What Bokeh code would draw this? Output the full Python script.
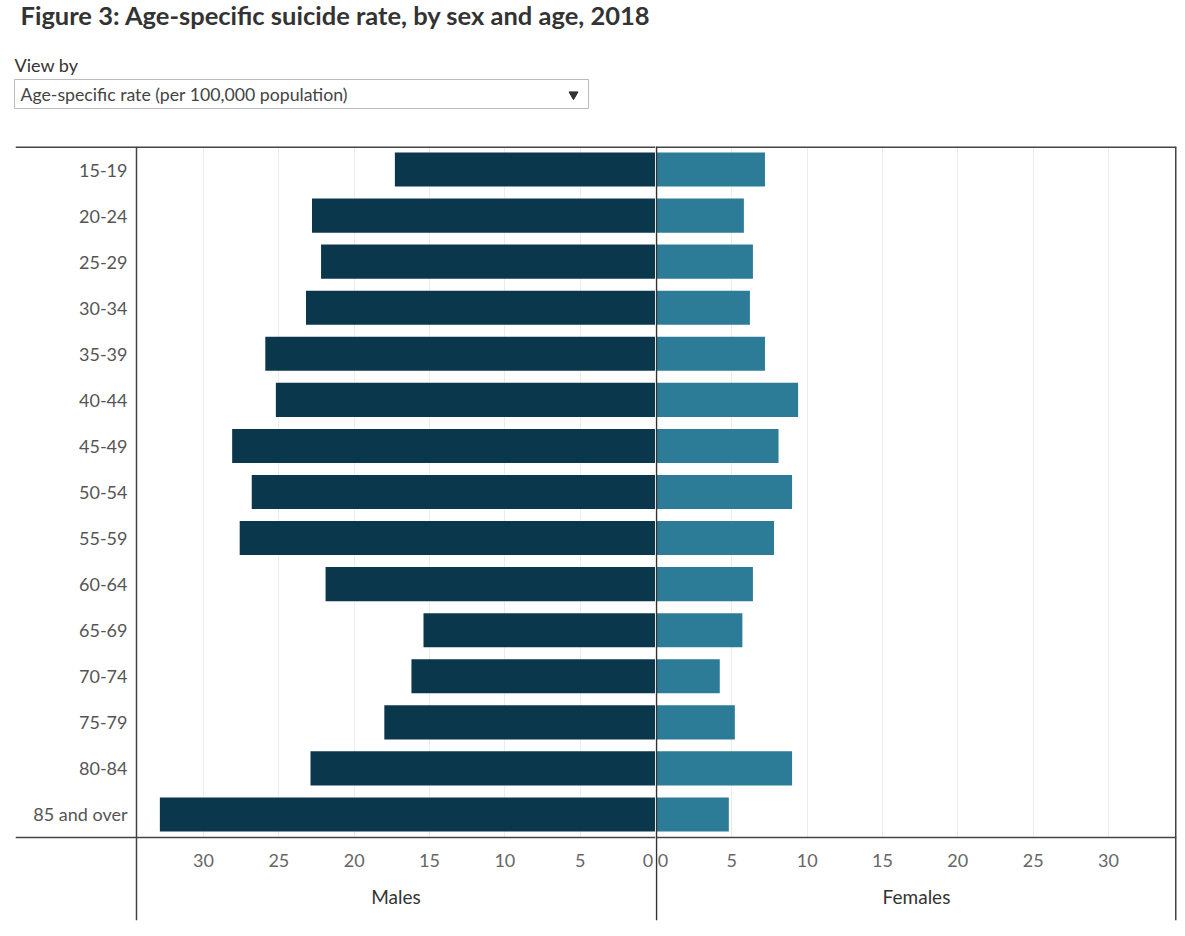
from bokeh.plotting import figure
from bokeh.layouts import column, row
from bokeh.models import Range1d, FixedTicker, ColumnDataSource, BoxAnnotation, Span, Label
from bokeh.core.properties import value
from bokeh.embed import file_html
from bokeh.resources import INLINE

# ---------------- data ----------------
ages = ["15-19", "20-24", "25-29", "30-34", "35-39", "40-44", "45-49", "50-54",
        "55-59", "60-64", "65-69", "70-74", "75-79", "80-84", "85 and over"]
males = [17.3, 22.8, 22.2, 23.2, 25.9, 25.2, 28.1, 26.8, 27.6, 21.9, 15.4, 16.2, 18.0, 22.9, 32.9]
females = [7.2, 5.8, 6.4, 6.2, 7.2, 9.4, 8.1, 9.0, 7.8, 6.4, 5.7, 4.2, 5.2, 9.0, 4.8]
ticks = [0, 5, 10, 15, 20, 25, 30]

title_text = "Figure 3: Age-specific suicide rate, by sex and age, 2018"
viewby_text = "View by"
dropdown_text = "Age-specific rate (per 100,000 population)"
male_label = "Males"
female_label = "Females"

MALE_COLOR = "#0b374d"
FEMALE_COLOR = "#2c7c97"
LINE_COLOR = "#444444"
FONT = "Lato"

# ---------------- layout constants (pixels) ----------------
ROWS_H = 691            # height of the bar area
BOTTOM_H = 83           # axis strip below the bars (inside the frame)
LABEL_W = 121           # label column inside the male frame
MALE_W = 519            # male bar area width
FEMALE_W = 521
PX_PER_UNIT = MALE_W / 34.45
AXIS_LABEL_DY = 59      # axis title centre below the bar area

n = len(ages)
row_px = ROWS_H / n
idx = list(range(n))
y_bottom = (n - 0.5) + BOTTOM_H / row_px
male_max = MALE_W / PX_PER_UNIT
male_full = (MALE_W + LABEL_W) / PX_PER_UNIT
female_min = -1 / PX_PER_UNIT
female_max = female_min + FEMALE_W / PX_PER_UNIT

# ---------------- header ----------------
HW, HH = 1180, 138
hdr = figure(width=HW, height=HH, x_range=Range1d(0, HW), y_range=Range1d(HH, 0),
             toolbar_location=None, output_backend="svg", min_border=0)
hdr.axis.visible = False
hdr.grid.visible = False
hdr.outline_line_color = None
hdr.text(x=[20], y=[14], text=[title_text], text_font=value(FONT), text_font_style="bold",
         text_font_size="25.5px", text_color="#333333", text_baseline="middle")
hdr.text(x=[14], y=[64], text=[viewby_text], text_font=value(FONT),
         text_font_size="18px", text_color="#333333", text_baseline="middle")
hdr.quad(left=[14], right=[588], top=[79], bottom=[108], fill_color="white",
         line_color="#bbbbbb", line_width=1)
hdr.text(x=[20], y=[94], text=[dropdown_text], text_font=value(FONT),
         text_font_size="17.7px", text_color="#444444", text_baseline="middle")
hdr.scatter(x=[573], y=[94], marker="inverted_triangle", size=9,
            fill_color="#333333", line_color="#333333")

# ---------------- figures ----------------
src = ColumnDataSource(dict(y=idx, age=ages, males=males, females=females))

pm = figure(frame_width=MALE_W + LABEL_W, frame_height=ROWS_H + BOTTOM_H,
            x_range=Range1d(male_full, 0), y_range=Range1d(y_bottom, -0.5),
            toolbar_location=None, output_backend="svg",
            min_border_left=15, min_border_right=0, min_border_top=8, min_border_bottom=6)
pm.hbar(y="y", left=0, right="males", height=0.74, source=src,
        fill_color=MALE_COLOR, line_color=None)

pf = figure(frame_width=FEMALE_W, frame_height=ROWS_H + BOTTOM_H,
            x_range=Range1d(female_min, female_max), y_range=pm.y_range,
            toolbar_location=None, output_backend="svg",
            min_border_left=0, min_border_right=6, min_border_top=8, min_border_bottom=6)
pf.hbar(y="y", left=0, right="females", height=0.74, source=src,
        fill_color=FEMALE_COLOR, line_color=None)
pf.yaxis.visible = False

for p, zero in ((pm, "0\u2009"), (pf, "\u20090")):
    p.outline_line_color = None
    p.xaxis.ticker = FixedTicker(ticks=ticks)
    p.xgrid.ticker = FixedTicker(ticks=ticks[1:])
    p.xgrid.grid_line_color = "#ececec"
    p.ygrid.grid_line_color = None
    p.xaxis.axis_line_color = None
    p.xaxis.major_tick_line_color = None
    p.xaxis.minor_tick_line_color = None
    p.xaxis.major_label_standoff = 5 - BOTTOM_H
    p.xaxis.major_label_text_font = FONT
    p.xaxis.major_label_text_font_size = "18px"
    p.xaxis.major_label_text_color = "#666666"
    p.xaxis.major_label_overrides = {0: zero}
    # hide grid lines in the axis strip
    p.add_layout(BoxAnnotation(top=n - 0.5, fill_color="white", fill_alpha=1.0,
                               line_color=None, level="underlay"))
    # frame lines
    p.add_layout(Span(location=-0.5, dimension="width", line_color=LINE_COLOR, line_width=3))
    p.add_layout(Span(location=n - 0.5, dimension="width", line_color=LINE_COLOR, line_width=1.5))

# axis titles, centred under each bar area
for p, lab, cx in ((pm, male_label, male_max / 2), (pf, female_label, (female_max) / 2)):
    p.add_layout(Label(x=cx, y=(n - 0.5) + AXIS_LABEL_DY / row_px, text=lab,
                       text_font=FONT, text_font_size="19px", text_color="#333333",
                       text_align="center", text_baseline="middle"))

pm.add_layout(Span(location=male_max, dimension="height", line_color=LINE_COLOR, line_width=1.5))
pf.add_layout(Span(location=0, dimension="height", line_color="#333333", line_width=1.5))
pf.add_layout(Span(location=female_max, dimension="height", line_color=LINE_COLOR, line_width=3))

pm.yaxis.ticker = FixedTicker(ticks=idx)
pm.yaxis.major_label_overrides = {i: a for i, a in zip(idx, ages)}
pm.yaxis.axis_line_color = None
pm.yaxis.major_tick_line_color = None
pm.yaxis.minor_tick_line_color = None
pm.yaxis.major_label_standoff = -(LABEL_W - 3)
pm.yaxis.major_label_text_font = FONT
pm.yaxis.major_label_text_font_size = "18px"
pm.yaxis.major_label_text_color = "#555555"

layout = column(hdr, row(pm, pf))
open("out.html", "w").write(file_html(layout, INLINE))
